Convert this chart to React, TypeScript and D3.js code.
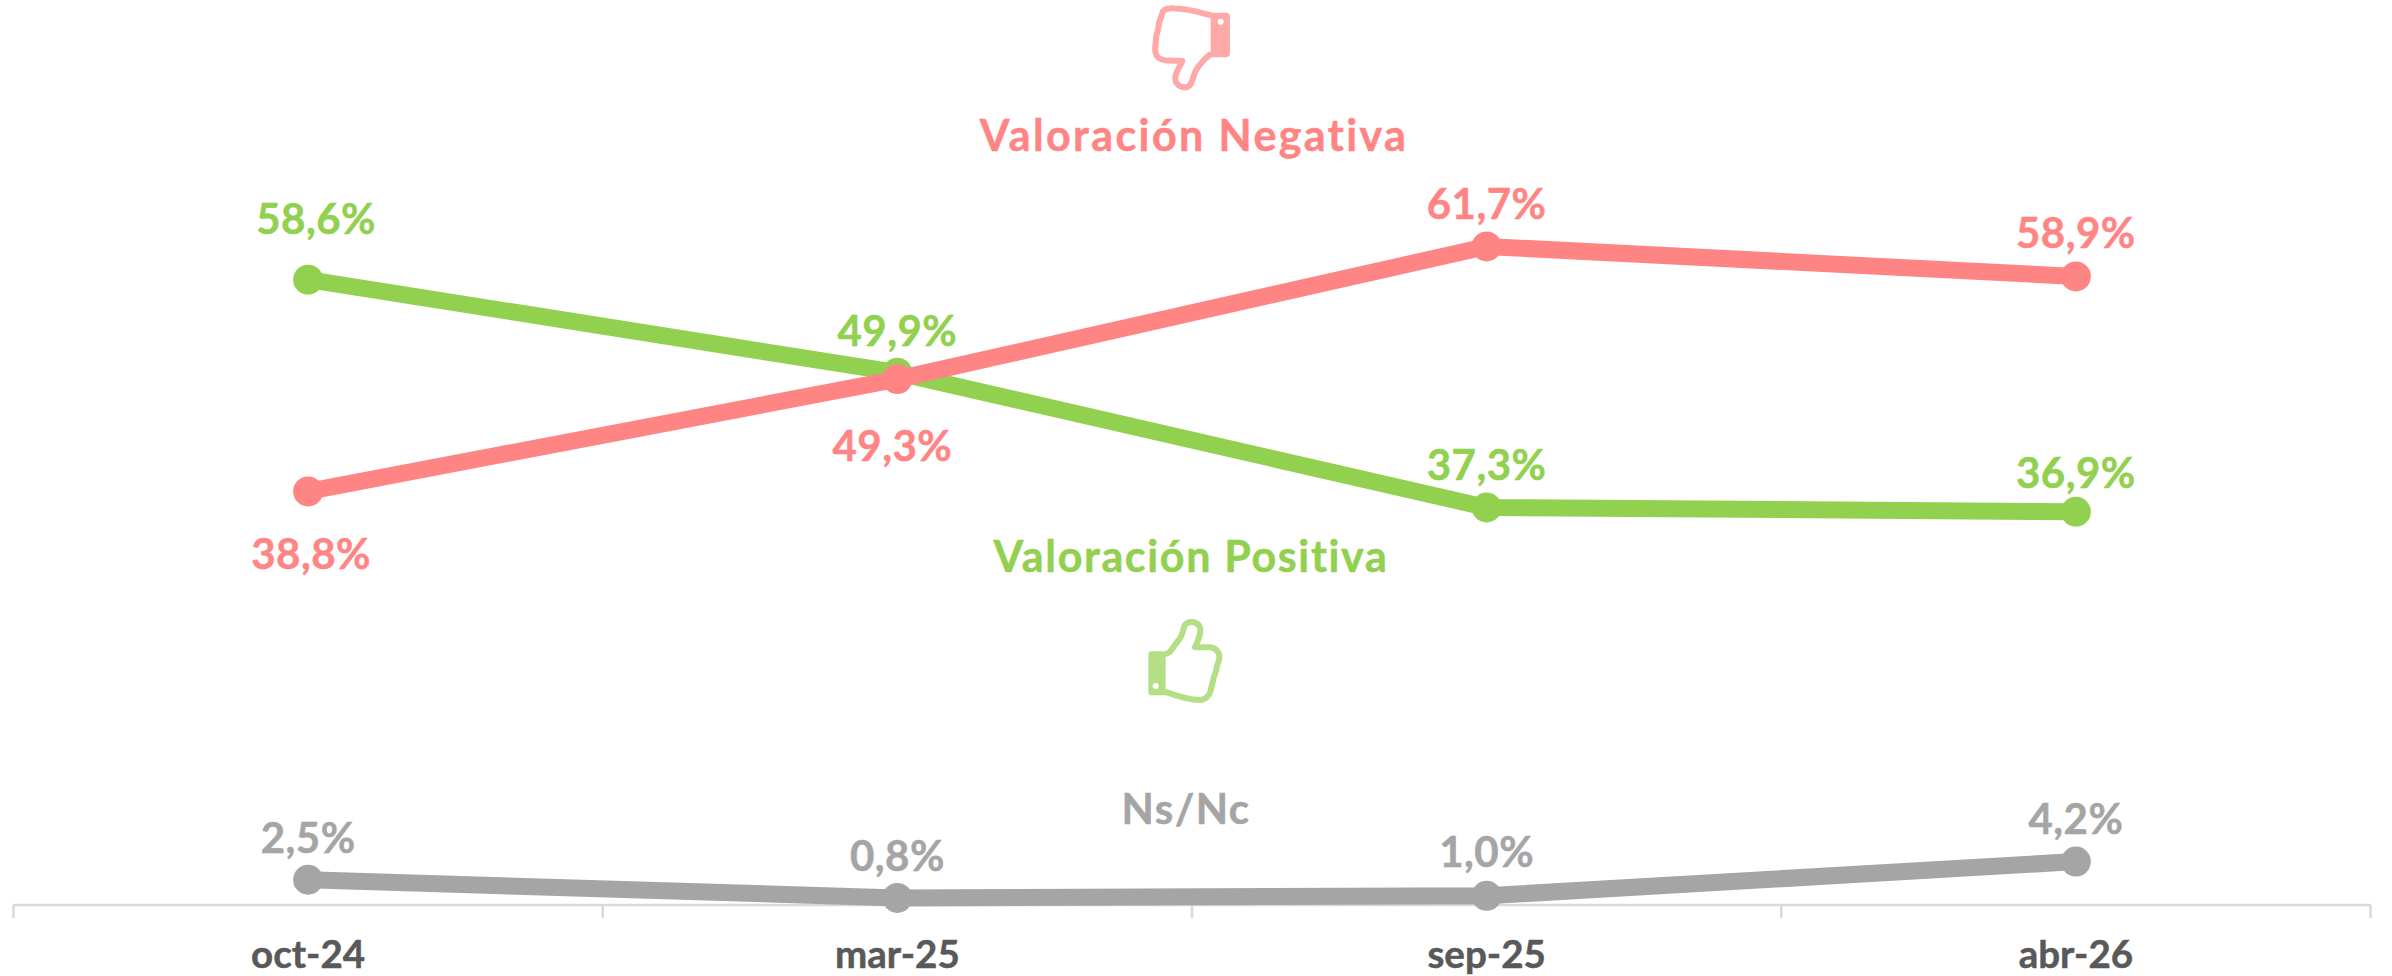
import React from "react";
import * as d3 from "d3";

const categories = ["oct-24", "mar-25", "sep-25", "abr-26"];
const negativa = [38.8, 49.3, 61.7, 58.9];
const positiva = [58.6, 49.9, 37.3, 36.9];
const nsnc = [2.5, 0.8, 1.0, 4.2];

const W = 2392, H = 976;
const FONT = "Lato, 'Open Sans', sans-serif";
const x = d3.scaleBand<string>().domain(categories).range([13.5, 2370.5]);
const cx = (c: string) => (x(c) as number) + x.bandwidth() / 2;
const y = d3.scaleLinear().domain([0, 84.6]).range([906.5, 1.5]);
const AXIS_Y = 905;
const fmt = (v: number) => v.toFixed(1).replace(".", ",") + "%";

const seriesList = [
  { name: "nsnc", values: nsnc, color: "#a5a5a5", dx: [0, 0, 0, 0], dy: [-27, -27, -29, -28] },
  { name: "positiva", values: positiva, color: "#92d050", dx: [8, 0, 0, 0], dy: [-46, -27, -27, -24] },
  { name: "negativa", values: negativa, color: "#ff8585", dx: [3, -5, 0, 0], dy: [78, 82, -27, -28] },
];

const line = d3.line<number>().x((_, i) => cx(categories[i])).y((v) => y(v));

export default function App() {
  return (
    <svg width={W} height={H} viewBox={`0 0 ${W} ${H}`} style={{ position: "absolute", left: 0, top: 0, background: "#fff" }} fontFamily={FONT} fontWeight={700}>
      <g stroke="#d9d9d9" strokeWidth={2.5} fill="none">
        <line x1={13.5} x2={2370.5} y1={AXIS_Y} y2={AXIS_Y} />
        {[...categories.map((c) => x(c) as number), 2370.5].map((t, i) => (
          <line key={i} x1={t} x2={t} y1={AXIS_Y} y2={AXIS_Y + 13} />
        ))}
      </g>
      {categories.map((c) => (
        <text key={c} x={cx(c)} y={968} textAnchor="middle" fontSize={38.5} stroke="#595959" strokeWidth={0.5} fill="#595959">{c}</text>
      ))}
      {seriesList.map((s) => (
        <g key={s.name}>
          <path d={line(s.values) as string} fill="none" stroke={s.color} strokeWidth={17} />
          {s.values.map((v, i) => (
            <circle key={i} cx={cx(categories[i])} cy={y(v)} r={15} fill={s.color} />
          ))}
        </g>
      ))}
      {seriesList.map((s) =>
        s.values.map((v, i) => (
          <text key={s.name + i} x={cx(categories[i]) + s.dx[i]} y={y(v) + s.dy[i]} textAnchor="middle" fontSize={42} letterSpacing={0.5} stroke={s.color} strokeWidth={0.5} fill={s.color}>{fmt(v)}</text>
        ))
      )}
      <text x={1194} y={151} textAnchor="middle" fontSize={43} letterSpacing={2.4} stroke="#ff8585" strokeWidth={0.5} fill="#ff8585">Valoración Negativa</text>
      <text x={1191} y={572} textAnchor="middle" fontSize={43} letterSpacing={1.65} stroke="#92d050" strokeWidth={0.5} fill="#92d050">Valoración Positiva</text>
      <text x={1186} y={824} textAnchor="middle" fontSize={42} letterSpacing={1.4} stroke="#a5a5a5" strokeWidth={0.5} fill="#a5a5a5">Ns/Nc</text>

      <g transform="translate(1100,0) scale(0.3333)">
        <path d="M335,46 C300,38 265,26 222,25 C200,24 188,30 186,42 C184,56 176,62 176,78 C176,92 168,98 168,118 C168,130 164,140 166,155 C168,172 182,180 195,181 L247,183 C240,200 226,215 226,235 C226,252 240,262 255,262 C272,262 276,245 282,225 C288,205 305,185 328,165 L335,162" fill="none" stroke="#ffa8a8" strokeWidth={18} strokeLinejoin="round" />
        <path d="M332,38 H378 Q390,38 390,50 V160 Q390,172 378,172 H332 Z" fill="#ffa8a8" />
        <circle cx={362} cy={65} r={9} fill="#fff" />
      </g>
      <g transform="translate(1100,530) scale(0.3333)">
        <path d="M195,372 C210,372 212,360 240,325 C250,312 248,295 255,285 C262,274 285,272 296,285 C305,296 302,315 285,352 L330,352 C350,354 360,370 358,385 C356,398 350,405 350,415 C350,425 342,435 340,448 C338,462 334,470 332,482 C328,498 315,510 300,510 C265,510 235,500 195,485" fill="none" stroke="#b5df86" strokeWidth={18} strokeLinejoin="round" />
        <path d="M197,364 H155 Q145,364 145,374 V486 Q145,496 155,496 H197 Z" fill="#b5df86" />
        <circle cx={167} cy={468} r={9} fill="#fff" />
      </g>
    </svg>
  );
}
